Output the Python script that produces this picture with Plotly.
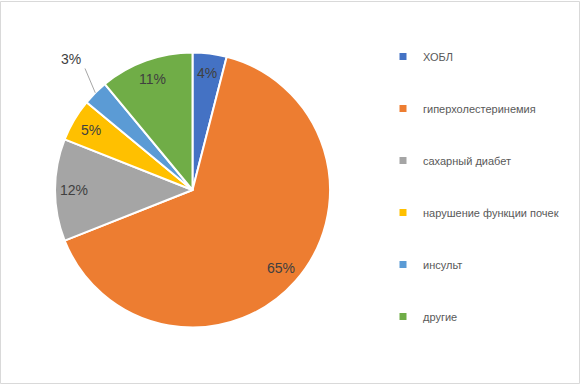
import math
import plotly.graph_objects as go

# ---- data ----
categories = ["ХОБЛ", "гиперхолестеринемия", "сахарный диабет",
              "нарушение функции почек", "инсульт", "другие"]
values = [4, 65, 12, 5, 3, 11]
colors = ["#4472C4", "#ED7D31", "#A5A5A5", "#FFC000", "#5B9BD5", "#70AD47"]
outside_labels = ["инсульт"]  # labelled outside the pie with a leader line

# ---- layout constants (pixels) ----
W, H = 581, 384
CX, CY, R = 192.5, 190.0, 137.5
LABEL_RF = 0.86
OUT_RF = 1.30
FONT = "Liberation Sans, Arial, sans-serif"

def px2paper(px, py):
    return px / W, 1 - py / H

dom_x = [(CX - R) / W, (CX + R) / W]
dom_y = [1 - (CY + R) / H, 1 - (CY - R) / H]

fig = go.Figure()
fig.add_trace(go.Pie(
    labels=categories, values=values, sort=False, direction="clockwise",
    rotation=0, marker=dict(colors=colors, line=dict(color="white", width=2)),
    textinfo="none", showlegend=False, hoverinfo="label+percent",
    domain=dict(x=dom_x, y=dom_y),
))

# legend entries (one per category)
for cat, col in zip(categories, colors):
    fig.add_trace(go.Scatter(
        x=[None], y=[None], mode="markers", name=cat, legendgroup=cat,
        marker=dict(symbol="square", size=7, color=col), hoverinfo="skip",
    ))

# percentage labels computed from the data
total = sum(values)
annotations = []
shapes = []
cum = 0
for cat, v in zip(categories, values):
    mid = math.radians((cum + v / 2) / total * 360)
    cum += v
    pct = f"{round(v / total * 100)}%"
    if cat in outside_labels:
        a_lab = mid + math.radians(2)
        lx, ly = CX + OUT_RF * R * math.sin(a_lab), CY - OUT_RF * R * math.cos(a_lab)
        x0, y0 = CX + 1.18 * R * math.sin(mid + math.radians(3.5)), CY - 1.18 * R * math.cos(mid + math.radians(3.5))
        x1, y1 = CX + 1.0 * R * math.sin(mid), CY - 1.0 * R * math.cos(mid)
        p0 = px2paper(x0, y0)
        p1 = px2paper(x1, y1)
        shapes.append(dict(type="line", xref="paper", yref="paper",
                           x0=p0[0], y0=p0[1], x1=p1[0], y1=p1[1],
                           line=dict(color="#A6A6A6", width=1)))
    else:
        lx, ly = CX + LABEL_RF * R * math.sin(mid), CY - LABEL_RF * R * math.cos(mid)
    ax, ay = px2paper(lx, ly)
    annotations.append(dict(x=ax, y=ay, xref="paper", yref="paper", text=pct,
                            showarrow=False, xanchor="center", yanchor="middle",
                            font=dict(family=FONT, size=14, color="#404040")))

# chart border
shapes.append(dict(type="rect", xref="paper", yref="paper",
                   x0=0.5 / W, y0=0.5 / H, x1=1 - 1.5 / W, y1=1 - 1.5 / H,
                   line=dict(color="#D9D9D9", width=1)))

fig.update_layout(
    width=W, height=H, margin=dict(l=0, r=0, t=0, b=0),
    paper_bgcolor="white", plot_bgcolor="white",
    xaxis=dict(visible=False, range=[0, 1], fixedrange=True),
    yaxis=dict(visible=False, range=[0, 1], fixedrange=True),
    showlegend=True,
    legend=dict(x=383 / W, y=1 - 42 / H, xanchor="left", yanchor="top",
                tracegroupgap=33, font=dict(family=FONT, size=11, color="#595959"),
                bgcolor="rgba(0,0,0,0)", itemclick=False, itemdoubleclick=False),
    annotations=annotations, shapes=shapes,
)

fig.write_html("out.html", config={"displayModeBar": False},
               post_script="document.body.style.margin='0px';")
